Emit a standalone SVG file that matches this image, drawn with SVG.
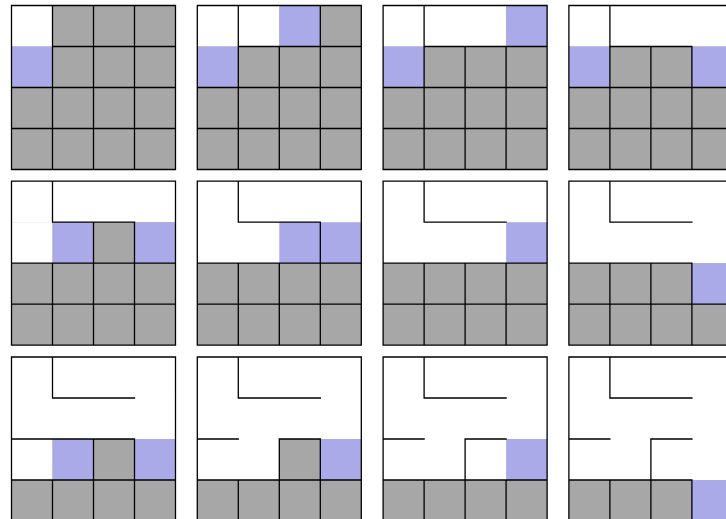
<svg xmlns="http://www.w3.org/2000/svg" width="726" height="519" viewBox="0 0 726 519">
<style>
.g{fill:#a7a7a7}
.w{fill:#ffffff}
.b{fill:#aaaae8}
.l{fill:none;stroke:#000;stroke-width:1.3;stroke-linecap:square}
</style>
<rect width="726" height="519" fill="#fff"/>
<g id="step1" transform="translate(11.5,5.5)">
<rect class="g" width="164" height="164"/><rect class="w" width="41" height="41"/><rect class="b" y="41" width="41" height="41"/>
<path class="l" d="M0 0H164V164H0Z M41 0V164 M82 0V164 M123 0V164 M41 41H164 M0 82H164 M0 123H164"/>
</g>
<g id="step2" transform="translate(197.3,5.5)">
<rect class="g" width="164" height="164"/><rect class="w" width="82" height="41"/><rect class="b" x="82" width="41" height="41"/><rect class="b" y="41" width="41" height="41"/>
<path class="l" d="M0 0H164V164H0Z M41 0V164 M82 41V164 M123 0V164 M41 41H164 M0 82H164 M0 123H164"/>
</g>
<g id="step3" transform="translate(383.1,5.5)">
<rect class="g" width="164" height="164"/><rect class="w" width="123" height="41"/><rect class="b" x="123" width="41" height="41"/><rect class="b" y="41" width="41" height="41"/>
<path class="l" d="M0 0H164V164H0Z M41 0V164 M82 41V164 M123 41V164 M41 41H164 M0 82H164 M0 123H164"/>
</g>
<g id="step4" transform="translate(568.9,5.5)">
<rect class="g" width="164" height="164"/><rect class="w" width="164" height="41"/><rect class="b" y="41" width="41" height="41"/><rect class="b" x="123" y="41" width="41" height="41"/>
<path class="l" d="M0 0H164V164H0Z M41 0V164 M82 41V164 M123 41V164 M41 41H123 M0 82H164 M0 123H164"/>
</g>
<g id="step5" transform="translate(11.5,181.2)">
<rect class="g" width="164" height="164"/><rect class="w" width="164" height="41"/><rect class="w" y="41" width="41" height="41"/><rect class="b" x="41" y="41" width="41" height="41"/><rect class="b" x="123" y="41" width="41" height="41"/>
<path class="l" d="M0 0H164V164H0Z M41 0V41 M41 82V164 M82 41V164 M123 41V164 M41 41H123 M0 82H164 M0 123H164"/>
</g>
<g id="step6" transform="translate(197.3,181.2)">
<rect class="g" width="164" height="164"/><rect class="w" width="164" height="82"/><rect class="b" x="82" y="41" width="82" height="41"/>
<path class="l" d="M0 0H164V164H0Z M41 0V41 M41 82V164 M82 82V164 M123 41V164 M41 41H123 M0 82H164 M0 123H164"/>
</g>
<g id="step7" transform="translate(383.1,181.2)">
<rect class="g" width="164" height="164"/><rect class="w" width="164" height="82"/><rect class="b" x="123" y="41" width="41" height="41"/>
<path class="l" d="M0 0H164V164H0Z M41 0V41 M41 82V164 M82 82V164 M123 82V164 M41 41H123 M0 82H164 M0 123H164"/>
</g>
<g id="step8" transform="translate(568.9,181.2)">
<rect class="g" width="164" height="164"/><rect class="w" width="164" height="82"/><rect class="b" x="123" y="82" width="41" height="41"/>
<path class="l" d="M0 0H164V164H0Z M41 0V41 M41 82V164 M82 82V164 M123 82V164 M41 41H123 M0 82H123 M0 123H164"/>
</g>
<g id="step9" transform="translate(11.5,357)">
<rect class="g" width="164" height="164"/><rect class="w" width="164" height="82"/><rect class="w" y="82" width="41" height="41"/><rect class="b" x="41" y="82" width="41" height="41"/><rect class="b" x="123" y="82" width="41" height="41"/>
<path class="l" d="M0 0H164V164H0Z M41 0V41 M41 123V164 M82 82V164 M123 82V164 M41 41H123 M0 82H123 M0 123H164"/>
</g>
<g id="step10" transform="translate(197.3,357)">
<rect class="g" width="164" height="164"/><rect class="w" width="164" height="82"/><rect class="w" y="82" width="82" height="41"/><rect class="b" x="123" y="82" width="41" height="41"/>
<path class="l" d="M0 0H164V164H0Z M41 0V41 M41 123V164 M82 82V164 M123 82V164 M41 41H123 M0 82H41 M82 82H123 M0 123H164"/>
</g>
<g id="step11" transform="translate(383.1,357)">
<rect class="g" width="164" height="164"/><rect class="w" width="164" height="123"/><rect class="b" x="123" y="82" width="41" height="41"/>
<path class="l" d="M0 0H164V164H0Z M41 0V41 M41 123V164 M82 82V164 M123 123V164 M41 41H123 M0 82H41 M82 82H123 M0 123H164"/>
</g>
<g id="step12" transform="translate(568.9,357)">
<rect class="g" width="164" height="164"/><rect class="w" width="164" height="123"/><rect class="b" x="123" y="123" width="41" height="41"/>
<path class="l" d="M0 0H164V164H0Z M41 0V41 M41 123V164 M82 82V164 M123 123V164 M41 41H123 M0 82H41 M82 82H123 M0 123H123"/>
</g>
<g id="connectors"/>
</svg>
